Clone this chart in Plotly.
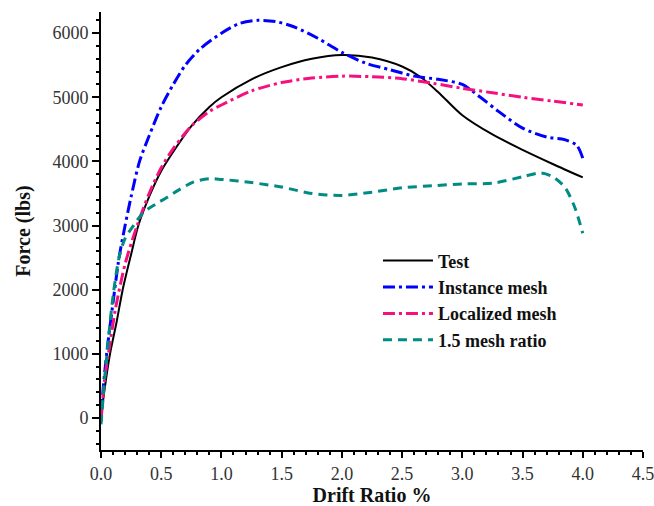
import plotly.graph_objects as go

# ---- data ----
test_x = [0, 0.03, 0.075, 0.13, 0.18, 0.25, 0.31, 0.4, 0.5, 0.6, 0.75, 0.9, 1.0, 1.25, 1.5,
          1.75, 2.0, 2.25, 2.5, 2.65, 2.8, 3.0, 3.25, 3.5, 3.75, 4.0]
test_y = [0, 450, 1000, 1500, 2000, 2550, 3000, 3450, 3850, 4150, 4550, 4850, 5000, 5280, 5470,
          5600, 5660, 5620, 5480, 5320, 5080, 4720, 4420, 4180, 3960, 3750]

inst_x = [0, 0.02, 0.05, 0.1, 0.15, 0.2, 0.25, 0.32, 0.4, 0.5, 0.6, 0.7, 0.82, 1.0, 1.15, 1.3,
          1.45, 1.6, 1.8, 2.0, 2.2, 2.4, 2.6, 2.8, 3.0, 3.15, 3.3, 3.5, 3.7, 3.85, 3.95, 4.0]
inst_y = [0, 500, 1050, 1800, 2500, 3000, 3450, 4000, 4400, 4850, 5200, 5500, 5750, 6000, 6150, 6200,
          6180, 6100, 5920, 5700, 5530, 5430, 5330, 5280, 5200, 5000, 4780, 4520, 4380, 4340, 4250, 4050]

loc_x = [0, 0.03, 0.07, 0.12, 0.2, 0.3, 0.4, 0.5, 0.6, 0.75, 0.9, 1.0, 1.25, 1.5, 1.75, 2.0,
         2.25, 2.5, 2.75, 3.0, 3.25, 3.5, 3.75, 4.0]
loc_y = [-50, 600, 1100, 1700, 2400, 3000, 3500, 3900, 4200, 4550, 4780, 4880, 5100, 5230, 5300, 5330,
         5320, 5290, 5220, 5140, 5070, 5000, 4940, 4880]

ratio_x = [0, 0.03, 0.06, 0.1, 0.15, 0.2, 0.27, 0.35, 0.45, 0.55, 0.65, 0.77, 0.9, 1.0, 1.25, 1.5,
           1.75, 2.0, 2.25, 2.5, 2.75, 3.0, 3.25, 3.5, 3.65, 3.75, 3.85, 3.93, 4.0]
ratio_y = [-100, 600, 1200, 1900, 2500, 2800, 3000, 3200, 3330, 3440, 3560, 3680, 3730, 3720, 3670, 3600,
           3500, 3470, 3520, 3590, 3620, 3650, 3660, 3760, 3820, 3760, 3600, 3300, 2880]

x_ticks = [0, 0.5, 1.0, 1.5, 2.0, 2.5, 3.0, 3.5, 4.0, 4.5]
y_ticks = [0, 1000, 2000, 3000, 4000, 5000, 6000]

serif = "Liberation Serif, Times New Roman, serif"

fig = go.Figure()
fig.add_trace(go.Scatter(x=test_x, y=test_y, mode="lines", name="Test",
                         line=dict(color="black", width=2, shape="spline", smoothing=0.8)))
fig.add_trace(go.Scatter(x=inst_x, y=inst_y, mode="lines", name="Instance mesh",
                         line=dict(color="#0000FF", width=3, dash="12px,4px,3px,4px",
                                   shape="spline", smoothing=0.8)))
fig.add_trace(go.Scatter(x=loc_x, y=loc_y, mode="lines", name="Localized mesh",
                         line=dict(color="#F5107F", width=3, dash="12px,4px,3px,4px",
                                   shape="spline", smoothing=0.8)))
fig.add_trace(go.Scatter(x=ratio_x, y=ratio_y, mode="lines", name="1.5 mesh ratio",
                         line=dict(color="#008B84", width=3, dash="9px,6px",
                                   shape="spline", smoothing=0.8)))

fig.update_layout(
    width=654, height=506,
    margin=dict(l=101, r=11, t=12, b=56, autoexpand=False),
    paper_bgcolor="white", plot_bgcolor="white",
    showlegend=True,
    legend=dict(x=0.511, y=0.474, xanchor="left", yanchor="top",
                font=dict(family=serif, size=18, color="#111", weight="bold"),
                bgcolor="rgba(0,0,0,0)", tracegroupgap=0, itemwidth=50),
    xaxis=dict(range=[0, 4.5], tickvals=x_ticks, ticktext=[f"{v:.1f}" for v in x_ticks],
               automargin=False, ticklabeloverflow="allow",
               showgrid=False, zeroline=False, showline=True, linecolor="black", linewidth=2,
               ticks="outside", ticklen=6, tickwidth=2, tickcolor="black",
               minor=dict(dtick=0.1, ticks="outside", ticklen=3, tickwidth=2, tickcolor="black"),
               tickfont=dict(family=serif, size=18, color="#333"),
               title=dict(text="<b>Drift Ratio %</b>", font=dict(family=serif, size=20, color="#111"),
                          standoff=12)),
    yaxis=dict(range=[-500, 6330], tickvals=y_ticks, ticktext=[str(v) for v in y_ticks],
               automargin=False, ticklabeloverflow="allow",
               showgrid=False, zeroline=False, showline=True, linecolor="black", linewidth=2,
               ticks="outside", ticklen=7, tickwidth=2, tickcolor="black",
               minor=dict(dtick=200, ticks="outside", ticklen=3, tickwidth=2, tickcolor="black"),
               tickfont=dict(family=serif, size=18, color="#333"),
               title=dict(text="<b>Force (lbs)</b>", font=dict(family=serif, size=20, color="#111"),
                          standoff=16)),
)

fig.write_html("out.html")
